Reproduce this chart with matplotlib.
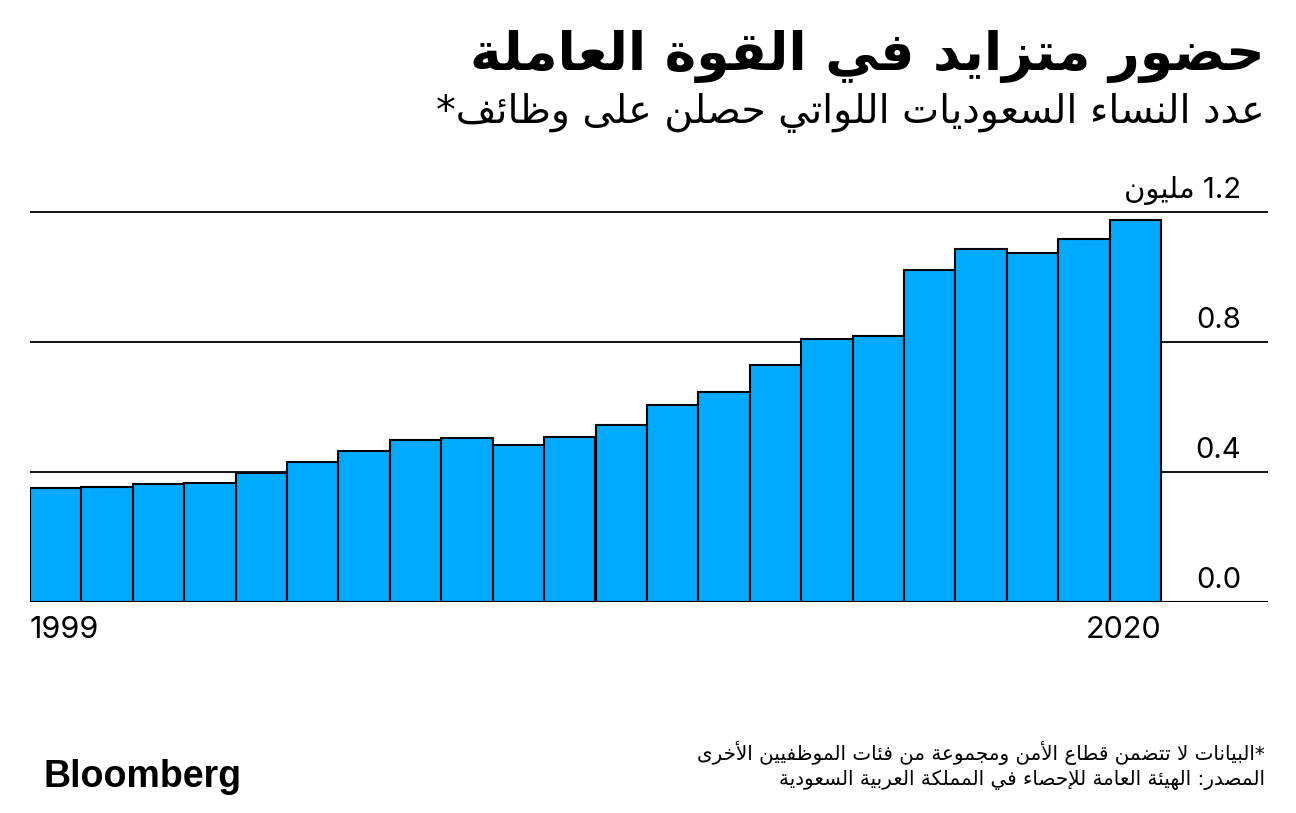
import re
import matplotlib
matplotlib.use("Agg")
import matplotlib.pyplot as plt

plt.rcParams['font.family'] = ['DejaVu Sans']

# ==============================
# データ
# ==============================
years = [1999, 2000, 2001, 2002, 2003, 2004, 2005, 2006, 2007, 2008, 2009,
         2010, 2011, 2012, 2013, 2014, 2015, 2016, 2017, 2018, 2019, 2020]
women_mn = [0.350, 0.353, 0.363, 0.367, 0.397, 0.432, 0.465, 0.498, 0.504, 0.483, 0.507,
            0.544, 0.607, 0.647, 0.728, 0.808, 0.817, 1.022, 1.085, 1.073, 1.118, 1.175]
y_ticks = [0.0, 0.4, 0.8, 1.2]
tick_labels = ["0.0", "0.4", "0.8", "1.2 مليون"]

title = "حضور متزايد في القوة العاملة"
subtitle = "عدد النساء السعوديات اللواتي حصلن على وظائف*"
note = "*البيانات لا تتضمن قطاع الأمن ومجموعة من فئات الموظفيين الأخرى"
source = "المصدر: الهيئة العامة للإحصاء في المملكة العربية السعودية"

BAR_COLOR = "#00aaff"

# ==============================
# アラビア文字の整形（matplotlibは結合・右から左を処理しない）
# ==============================
# 文字 -> (最初の表示形, 形の数)  1: 単独のみ, 2: 右側のみ結合, 4: 両側結合
FORMS = {
    'ء': (0xFE80, 1), 'آ': (0xFE81, 2), 'أ': (0xFE83, 2), 'ؤ': (0xFE85, 2),
    'إ': (0xFE87, 2), 'ئ': (0xFE89, 4), 'ا': (0xFE8D, 2), 'ب': (0xFE8F, 4),
    'ة': (0xFE93, 2), 'ت': (0xFE95, 4), 'ث': (0xFE99, 4), 'ج': (0xFE9D, 4),
    'ح': (0xFEA1, 4), 'خ': (0xFEA5, 4), 'د': (0xFEA9, 2), 'ذ': (0xFEAB, 2),
    'ر': (0xFEAD, 2), 'ز': (0xFEAF, 2), 'س': (0xFEB1, 4), 'ش': (0xFEB5, 4),
    'ص': (0xFEB9, 4), 'ض': (0xFEBD, 4), 'ط': (0xFEC1, 4), 'ظ': (0xFEC5, 4),
    'ع': (0xFEC9, 4), 'غ': (0xFECD, 4), 'ف': (0xFED1, 4), 'ق': (0xFED5, 4),
    'ك': (0xFED9, 4), 'ل': (0xFEDD, 4), 'م': (0xFEE1, 4), 'ن': (0xFEE5, 4),
    'ه': (0xFEE9, 4), 'و': (0xFEED, 2), 'ى': (0xFEEF, 2), 'ي': (0xFEF1, 4),
}
LAM_ALEF = {'ا': 0xFEFB, 'أ': 0xFEF7, 'إ': 0xFEF9, 'آ': 0xFEF5}


def ar(text):
    items = []
    i = 0
    while i < len(text):
        c = text[i]
        if c == 'ل' and i + 1 < len(text) and text[i + 1] in LAM_ALEF:
            items.append((LAM_ALEF[text[i + 1]], 2))
            i += 2
        elif c in FORMS:
            items.append(FORMS[c])
            i += 1
        else:
            items.append((c, 0))
            i += 1

    out = []
    for k, (base, n) in enumerate(items):
        if n == 0:
            out.append(base)
            continue
        prev_n = items[k - 1][1] if k > 0 else 0
        next_n = items[k + 1][1] if k + 1 < len(items) else 0
        joins_prev = n >= 2 and prev_n == 4
        joins_next = n == 4 and next_n >= 2
        if n == 1:
            form = 0
        elif n == 2:
            form = 1 if joins_prev else 0
        else:
            form = {(False, False): 0, (True, False): 1,
                    (False, True): 2, (True, True): 3}[(joins_prev, joins_next)]
        out.append(chr(base + form))

    visual = "".join(out)[::-1]
    # 数字は左から右のまま
    return re.sub(r"[0-9][0-9.]*", lambda m: m.group()[::-1], visual)


# ==============================
# 描画
# ==============================
W, H = 1296, 813
fig = plt.figure(figsize=(W / 100, H / 100), dpi=100)

px_per_unit = 325.0
y_top = 1.25
left_px, right_px, base_px = 30, 1268, 602
ax = fig.add_axes([left_px / W, (H - base_px) / H,
                   (right_px - left_px) / W, y_top * px_per_unit / H])

x = list(range(len(years)))
bar_px = (1161 - left_px) / len(years)
ax.bar(x, women_mn, width=1, align="edge", color=BAR_COLOR,
       edgecolor="black", linewidth=1.5, zorder=2)

for t in y_ticks[1:]:
    ax.axhline(t, color="black", linewidth=1.3, zorder=1)
ax.axhline(0, color="black", linewidth=1.5, zorder=3)

ax.set_xlim(0, (right_px - left_px) / bar_px)
ax.set_ylim(0, y_top)
ax.axis("off")

num_font = ["Inter", "DejaVu Sans"]
lab_x = (1241 - left_px) / (right_px - left_px)
for t, lab in zip(y_ticks, tick_labels):
    ax.text(lab_x, t + 14 / px_per_unit, ar(lab), transform=ax.get_yaxis_transform(),
            ha="right", va="baseline", fontsize=21, family=num_font)

ax.text(0, -36 / px_per_unit, str(years[0]), ha="left", va="baseline",
        fontsize=22, family=num_font)
ax.text(len(years), -36 / px_per_unit, str(years[-1]), ha="right", va="baseline",
        fontsize=22, family=num_font)

# タイトル
fig.text(1265 / W, 1 - 70 / H, ar(title), ha="right", va="baseline",
         fontsize=38.5, fontweight="bold")
fig.text(1265 / W, 1 - 123 / H, ar(subtitle), ha="right", va="baseline",
         fontsize=28.4)

# 注記・出典
fig.text(1265 / W, 1 - 760 / H, ar(note), ha="right", va="baseline", fontsize=14.3)
fig.text(1265 / W, 1 - 785 / H, ar(source), ha="right", va="baseline", fontsize=14.3)

fig.text(43 / W, 1 - 787 / H, "Bloomberg", ha="left", va="baseline",
         fontsize=27, fontweight="bold", family="Liberation Sans")

fig.savefig("out.png", dpi=100)
